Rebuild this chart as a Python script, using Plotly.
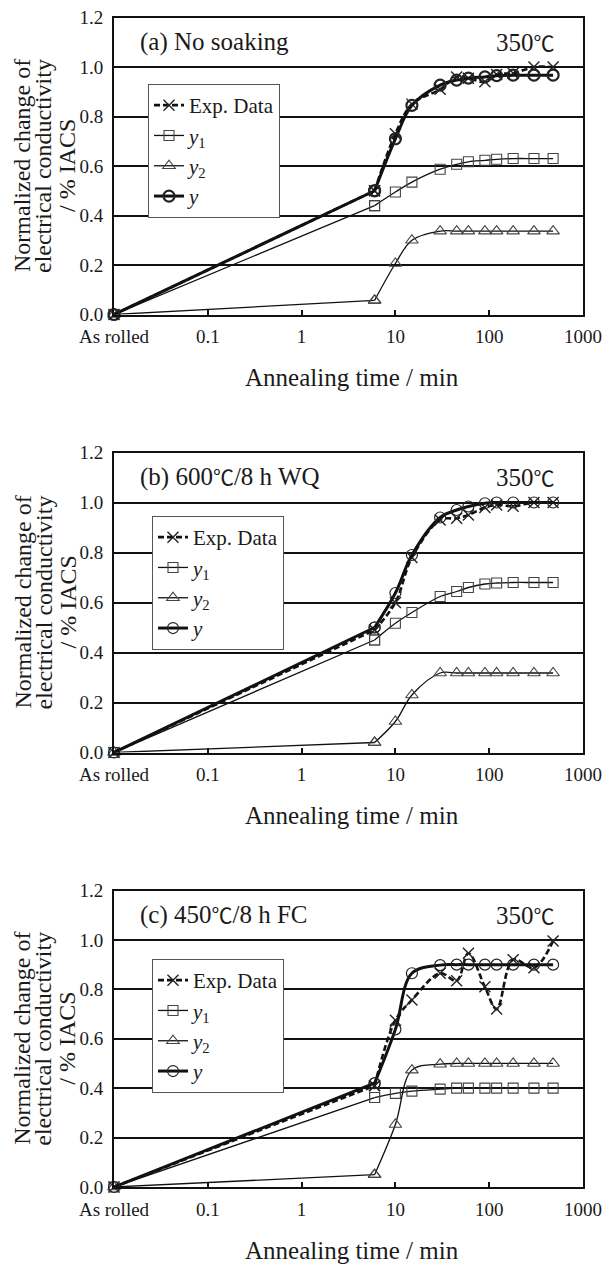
import plotly.graph_objects as go

# ---------------- data ----------------
# "As rolled" is drawn at 0.01 min on the log axis
t = [0.01, 6, 10, 15, 30, 45, 60, 90, 120, 180, 300, 480]
tick_vals = [0.01, 0.1, 1, 10, 100, 1000]
tick_text = ["As rolled", "0.1", "1", "10", "100", "1000"]

a_exp = [0, 0.50, 0.73, 0.85, 0.91, 0.96, 0.955, 0.94, 0.97, 0.975, 1.00, 1.00]
a_y1 = [0, 0.44, 0.495, 0.535, 0.587, 0.607, 0.617, 0.623, 0.627, 0.63, 0.63, 0.63]
a_y2 = [0, 0.057, 0.206, 0.30, 0.337, 0.337, 0.337, 0.337, 0.337, 0.337, 0.337, 0.337]
a_y = [0, 0.50, 0.71, 0.845, 0.927, 0.947, 0.955, 0.96, 0.965, 0.967, 0.967, 0.967]

b_exp = [0, 0.49, 0.60, 0.78, 0.93, 0.937, 0.95, 0.98, 0.99, 0.985, 1.00, 1.00]
b_y1 = [0, 0.45, 0.517, 0.56, 0.624, 0.644, 0.66, 0.674, 0.678, 0.68, 0.68, 0.68]
b_y2 = [0, 0.04, 0.124, 0.23, 0.318, 0.318, 0.318, 0.318, 0.318, 0.318, 0.318, 0.318]
b_y = [0, 0.50, 0.638, 0.79, 0.94, 0.97, 0.984, 0.997, 1.00, 1.00, 1.00, 1.00]

c_exp = [0, 0.41, 0.675, 0.757, 0.865, 0.835, 0.946, 0.81, 0.72, 0.92, 0.887, 0.996]
c_y1 = [0, 0.362, 0.379, 0.388, 0.396, 0.40, 0.40, 0.40, 0.40, 0.40, 0.40, 0.40]
c_y2 = [0, 0.05, 0.253, 0.473, 0.497, 0.50, 0.50, 0.50, 0.50, 0.50, 0.50, 0.50]
c_y = [0, 0.42, 0.638, 0.865, 0.898, 0.90, 0.90, 0.90, 0.90, 0.90, 0.90, 0.90]

DEG = "<span style='font-size:21px'>℃</span>"
panel_titles = ["(a) No soaking", f"(b) 600{DEG}/8 h WQ", f"(c) 450{DEG}/8 h FC"]
temp_label = f"350{DEG}"
series_names = ["Exp. Data", "<i>y</i><sub>1</sub>", "<i>y</i><sub>2</sub>", "<i>y</i>"]
x_title = "Annealing time / min"
y_title_lines = ["Normalized change of", "electrical conductivity", "/ % IACS"]

panels = [
    (a_exp, a_y1, a_y2, a_y),
    (b_exp, b_y1, b_y2, b_y),
    (c_exp, c_y1, c_y2, c_y),
]

# ---------------- layout geometry (pixels) ----------------
W, H = 616, 1265
FONT = "Liberation Serif, Noto Sans CJK JP, serif"
TXT = "#1a1a1a"
x_left, x_right = 114, 583
panel_px = [(17.5, 314.5), (452.5, 752.5), (890.5, 1187)]
legend_px = [(148, 84), (152, 516), (152, 959)]
circle_lw = [2.2, 1.2, 1.2]

fig = go.Figure()

for i, (exp, y1, y2, yy) in enumerate(panels):
    n = "" if i == 0 else str(i + 1)
    xa, ya = "x" + n, "y" + n
    leg = "legend" + n

    styles = [
        (exp, series_names[0], f"p{i}e",
         dict(color="#111", width=2.6, dash="6px,3px"),
         dict(symbol="x-thin", size=11, line=dict(color="#222", width=1.4))),
        (y1, series_names[1], f"p{i}a",
         dict(color="#111", width=1.3),
         dict(symbol="square-open", size=10, color="#444", line=dict(width=1.1))),
        (y2, series_names[2], f"p{i}b",
         dict(color="#111", width=1.3),
         dict(symbol="triangle-up-open", size=11, color="#444", line=dict(width=1.1))),
        (yy, series_names[3], f"p{i}c",
         dict(color="#111", width=3.0),
         dict(symbol="circle-open", size=11, color="#222", line=dict(width=circle_lw[i]))),
    ]
    for vals, name, grp, lstyle, mstyle in styles:
        # first (as rolled -> 6 min) segment: nearly straight
        fig.add_trace(go.Scatter(
            x=t[:2], y=vals[:2], xaxis=xa, yaxis=ya, legend=leg, legendgroup=grp,
            showlegend=False, mode="lines+markers", cliponaxis=False,
            line=dict(shape="linear", **lstyle), marker=mstyle))
        # remaining points, smoothed
        fig.add_trace(go.Scatter(
            x=t[1:], y=vals[1:], xaxis=xa, yaxis=ya, legend=leg, legendgroup=grp,
            name=name, mode="lines+markers", cliponaxis=False,
            line=dict(shape="spline", smoothing=1.0, **lstyle), marker=mstyle))

    top, bot = panel_px[i]
    fig.update_layout(**{
        "xaxis" + n: dict(
            type="log", range=[-2, 3], domain=[x_left / W, x_right / W],
            anchor=ya, tickvals=tick_vals, ticktext=tick_text,
            ticks="inside", ticklen=5, tickwidth=1.5, tickcolor="#111",
            showgrid=False, zeroline=False, showline=True, mirror=True,
            linecolor="#111", linewidth=2,
            tickfont=dict(family=FONT, size=19, color=TXT),
            ticklabelstandoff=4, automargin=False),
        "yaxis" + n: dict(
            range=[0, 1.2], dtick=0.2, tickformat=".1f",
            domain=[1 - bot / H, 1 - top / H], anchor=xa,
            showgrid=True, gridcolor="#111", gridwidth=1.8, zeroline=False,
            showline=True, mirror=True, linecolor="#111", linewidth=2,
            ticks="", tickfont=dict(family=FONT, size=19, color=TXT),
            ticklabelstandoff=5, automargin=False),
        leg: dict(
            x=legend_px[i][0] / W, y=1 - legend_px[i][1] / H,
            xanchor="left", yanchor="top", bgcolor="white",
            bordercolor="#555", borderwidth=1, traceorder="grouped",
            tracegroupgap=0, itemwidth=30,
            font=dict(family=FONT, size=21, color=TXT)),
    })

    # panel headers
    fig.add_annotation(x=138 / W, xref="paper", y=1.1, yref=ya, text=panel_titles[i],
                       showarrow=False, xanchor="left", yanchor="middle",
                       font=dict(family=FONT, size=25, color=TXT))
    fig.add_annotation(x=557 / W, xref="paper", y=1.1, yref=ya, text=temp_label,
                       showarrow=False, xanchor="right", yanchor="middle",
                       font=dict(family=FONT, size=25, color=TXT))
    # x-axis title
    fig.add_annotation(x=352 / W, xref="paper", y=1 - (bot + 63) / H, yref="paper",
                       text=x_title, showarrow=False, xanchor="center", yanchor="middle",
                       font=dict(family=FONT, size=25, color=TXT))
    # y-axis title, three rotated lines
    yc = (top + bot) / 2
    for xpx, line in zip([22, 43, 67], y_title_lines):
        fig.add_annotation(x=xpx / W, xref="paper", y=1 - yc / H, yref="paper",
                           text=line, textangle=-90, showarrow=False,
                           xanchor="center", yanchor="middle",
                           font=dict(family=FONT, size=24, color=TXT))

fig.update_layout(
    width=W, height=H, margin=dict(l=0, r=0, t=0, b=0),
    paper_bgcolor="white", plot_bgcolor="white", showlegend=True,
)

fig.write_html("out.html")
